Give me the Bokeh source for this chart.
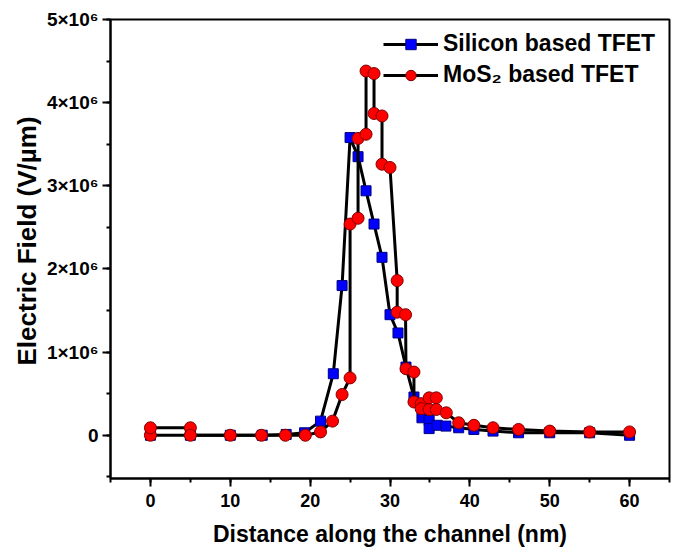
from bokeh.plotting import figure
from bokeh.models import SingleIntervalTicker, CustomJSTickFormatter, Range1d, Legend, LegendItem, Title
from bokeh.embed import file_html
from bokeh.resources import INLINE

# Silicon based TFET (blue squares)
si_x = [0, 5, 10, 14, 17, 19.3, 21.3, 22.9, 24.0, 25.0, 26.0, 27.0, 28.0, 29.0, 30.0, 31.0,
        32.0, 33.0, 34.0, 34.9, 34.9, 35.9, 37.0, 38.6, 40.5, 42.9, 46.1, 50.0, 55.0, 60.0]
si_y = [0.0, 0.0, 0.0, 0.0, 0.01e6, 0.03e6, 0.17e6, 0.74e6, 1.80e6, 3.58e6, 3.35e6, 2.94e6,
        2.54e6, 2.14e6, 1.45e6, 1.23e6, 0.82e6, 0.46e6, 0.21e6, 0.18e6, 0.08e6, 0.12e6,
        0.11e6, 0.09e6, 0.07e6, 0.05e6, 0.03e6, 0.03e6, 0.03e6, 0.0]

# MoS2 based TFET (red circles)
mo_x = [0, 0, 5, 5, 10, 13.9, 16.9, 19.4, 21.3, 22.8, 24.0, 25.0, 25.0, 26.0, 26.0, 27.0, 27.0,
        28.0, 28.0, 29.0, 29.0, 30.0, 30.9, 30.9, 31.95, 32.0, 33.0, 33.0, 33.9, 33.9, 34.9,
        34.9, 35.8, 35.8, 37.05, 38.6, 40.5, 42.9, 46.1, 50.0, 55.0, 60.0]
mo_y = [0.0, 0.09e6, 0.09e6, 0.0, 0.0, 0.0, 0.0, 0.0, 0.04e6, 0.17e6, 0.49e6, 0.69e6, 2.54e6,
        2.61e6, 3.57e6, 3.62e6, 4.38e6, 4.35e6, 3.87e6, 3.84e6, 3.26e6, 3.22e6, 1.86e6, 1.48e6,
        1.45e6, 0.80e6, 0.76e6, 0.40e6, 0.38e6, 0.32e6, 0.31e6, 0.45e6, 0.45e6, 0.31e6, 0.27e6,
        0.15e6, 0.12e6, 0.09e6, 0.07e6, 0.05e6, 0.04e6, 0.04e6]

series_labels = ["Silicon based TFET", "MoS\u2082 based TFET"]
x_title = "Distance along the channel (nm)"
y_title = "Electric Field (V/\u00b5m)"

FONT = "Liberation Sans"

p = figure(width=672, height=553, output_backend="svg", toolbar_location=None,
           x_range=Range1d(-5, 65), y_range=Range1d(-0.52e6, 5e6),
           min_border_left=110, min_border_right=3, min_border_top=19, min_border_bottom=75)
p.grid.visible = False
p.outline_line_color = "black"
p.outline_line_width = 2
p.background_fill_color = "white"
p.border_fill_color = "white"

# axes
p.xaxis.ticker = SingleIntervalTicker(interval=10, num_minor_ticks=2)
p.yaxis.ticker = SingleIntervalTicker(interval=1e6, num_minor_ticks=2)
p.yaxis.formatter = CustomJSTickFormatter(code="""
if (tick == 0) { return '0'; }
return (tick/1e6).toFixed(0) + '\u00d710\u2076';
""")
for ax in (p.xaxis[0], p.yaxis[0]):
    ax.axis_line_width = 2
    ax.axis_line_color = "black"
    ax.major_tick_line_width = 2
    ax.minor_tick_line_width = 2
    ax.major_tick_out = 8
    ax.major_tick_in = 0
    ax.minor_tick_out = 4
    ax.minor_tick_in = 0
    ax.major_label_text_font = FONT
    ax.major_label_text_font_style = "bold"
    ax.major_label_text_color = "black"
    ax.axis_label_text_font = FONT
    ax.axis_label_text_font_style = "bold"
    ax.axis_label_text_color = "black"
p.xaxis.major_label_text_font_size = "18px"
p.yaxis.major_label_text_font_size = "19px"
p.xaxis.axis_label = x_title
p.xaxis.axis_label_text_font_size = "23px"
p.xaxis.major_label_standoff = 7
p.yaxis.major_label_standoff = 4
p.xaxis.axis_label_standoff = 11

ytitle = Title(text=y_title, align="left", offset=113, standoff=3,
               text_font=FONT, text_font_style="bold", text_font_size="26px", text_color="black")
p.add_layout(ytitle, "left")

# series
l1 = p.line(si_x, si_y, line_color="black", line_width=3)
m1 = p.scatter(si_x, si_y, marker="square", size=10, fill_color="#0000ff", line_color="#000080", line_width=1)
l2 = p.line(mo_x, mo_y, line_color="black", line_width=3)
m2 = p.scatter(mo_x, mo_y, marker="circle", size=12, fill_color="#ff0000", line_color="#800000", line_width=1)

legend = Legend(items=[LegendItem(label=series_labels[0], renderers=[l1, m1]),
                       LegendItem(label=series_labels[1], renderers=[l2, m2])],
                location=(273, 390), padding=0, margin=0, spacing=4,
                glyph_width=55, glyph_height=26, label_height=26, label_standoff=5,
                label_text_font=FONT, label_text_font_style="bold", label_text_font_size="23px",
                label_text_color="black", border_line_alpha=0, background_fill_alpha=0)
p.add_layout(legend)

open("out.html", "w").write(file_html(p, INLINE))
